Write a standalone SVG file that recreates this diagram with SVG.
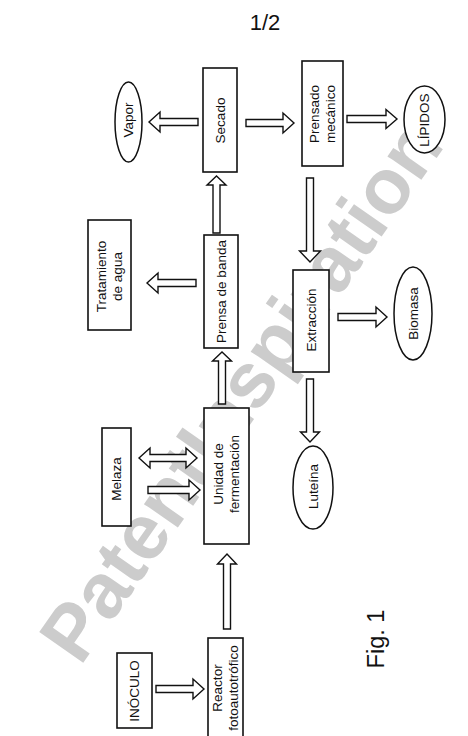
<svg xmlns="http://www.w3.org/2000/svg" width="468" height="736" viewBox="0 0 468 736">
<style>
.bg{fill:#ffffff}
.box{fill:#ffffff;stroke:#111;stroke-width:1.6}
.ell{fill:#ffffff;stroke:#111;stroke-width:1.5}
.arr{fill:#ffffff;stroke:#111;stroke-width:1.4;stroke-linejoin:miter}
.t{font-family:"Liberation Sans",Arial,sans-serif;font-size:13.5px;fill:#111;text-anchor:middle}
.wm{font-family:"Liberation Sans",Arial,sans-serif;font-weight:bold;font-size:78px;fill:#cccccc;text-anchor:middle}
</style>
<rect class="bg" x="0" y="0" width="468" height="736"/>
<text class="wm" transform="translate(240,390) rotate(-55)" y="28">PatentInspiration</text>
<text id="page" class="t" x="265" y="30" style="font-size:22px">1/2</text>
<g id="connectors">
<polygon class="arr" points="198,118.5 160,118.5 160,112 149,122 160,132 160,125.5 198,125.5"/>
<polygon class="arr" points="246,119.5 283,119.5 283,113 294,123 283,133 283,126.5 246,126.5"/>
<polygon class="arr" points="347,115.5 386,115.5 386,109.5 397,119 386,128.5 386,122.5 347,122.5"/>
<polygon class="arr" points="213,233 213,185 207,185 216.5,176 226,185 220,185 220,233"/>
<polygon class="arr" points="306.5,178 306.5,251 299.5,251 310,262 320.5,251 313.5,251 313.5,178"/>
<polygon class="arr" points="196,279.5 158,279.5 158,273 147,283 158,293 158,286.5 196,286.5"/>
<polygon class="arr" points="338,313.5 376,313.5 376,307 387,317 376,327 376,320.5 338,320.5"/>
<polygon class="arr" points="306.5,379 306.5,432 300.5,432 310,442 319.5,432 313.5,432 313.5,379"/>
<polygon class="arr" points="218.5,404 218.5,361 212.5,361 222,352 231.5,361 225.5,361 225.5,404"/>
<polygon class="arr" points="139,458 150,448 150,454.5 186,454.5 186,448 197,458 186,468 186,461.5 150,461.5 150,468"/>
<polygon class="arr" points="148,486.5 189,486.5 189,480 200,490 189,500 189,493.5 148,493.5"/>
<polygon class="arr" points="223.5,629 223.5,564 217.5,564 227,554 236.5,564 230.5,564 230.5,629"/>
<polygon class="arr" points="156,685.5 193,685.5 193,679 204,689 193,699 193,692.5 156,692.5"/>
</g>
<g id="vapor">
<ellipse class="ell" cx="128.5" cy="122" rx="13.5" ry="40"/>
<text class="t" transform="translate(128.5,120) rotate(-90)" y="4.7">Vapor</text>
</g>
<g id="secado">
<rect class="box" x="203" y="68" width="34" height="104"/>
<text class="t" transform="translate(220,120.5) rotate(-90)" y="4.7">Secado</text>
</g>
<g id="prensado">
<rect class="box" x="302" y="61" width="41" height="105"/>
<text class="t" transform="translate(322.5,114) rotate(-90)"><tspan x="0" y="-3.3">Prensado</tspan><tspan x="0" y="12.7">mecánico</tspan></text>
</g>
<g id="lipidos">
<ellipse class="ell" cx="424.5" cy="119.5" rx="20.5" ry="33.5"/>
<text class="t" transform="translate(424.5,120) rotate(-90)" y="4.7">LÍPIDOS</text>
</g>
<g id="tratamiento">
<rect class="box" x="88" y="220" width="43" height="110"/>
<text class="t" transform="translate(109.5,276.5) rotate(-90)"><tspan x="0" y="-3.3">Tratamiento</tspan><tspan x="0" y="12.7">de agua</tspan></text>
</g>
<g id="prensa">
<rect class="box" x="204" y="235" width="34" height="113"/>
<text class="t" transform="translate(221,291.5) rotate(-90)" y="4.7">Prensa de banda</text>
</g>
<g id="extraccion">
<rect class="box" x="293" y="270" width="36" height="102"/>
<text class="t" transform="translate(311,320) rotate(-90)" y="4.7">Extracción</text>
</g>
<g id="biomasa">
<ellipse class="ell" cx="413" cy="313.5" rx="19" ry="46.5"/>
<text class="t" transform="translate(413,313.5) rotate(-90)" y="4.7">Biomasa</text>
</g>
<g id="luteina">
<ellipse class="ell" cx="313" cy="487.5" rx="20" ry="41.5"/>
<text class="t" transform="translate(313,486.5) rotate(-90)" y="4.7">Luteína</text>
</g>
<g id="melaza">
<rect class="box" x="102" y="428" width="29" height="98"/>
<text class="t" transform="translate(116.5,479) rotate(-90)" y="4.7">Melaza</text>
</g>
<g id="unidad">
<rect class="box" x="204" y="408" width="45" height="136"/>
<text class="t" transform="translate(226.5,474) rotate(-90)"><tspan x="0" y="-3.3">Unidad de</tspan><tspan x="0" y="12.7">fermentación</tspan></text>
</g>
<g id="inoculo">
<rect class="box" x="117" y="653" width="35" height="75"/>
<text class="t" transform="translate(134.5,691) rotate(-90)" y="4.7">INÓCULO</text>
</g>
<g id="reactor">
<rect class="box" x="208" y="638" width="35" height="104"/>
<text class="t" transform="translate(225.5,688) rotate(-90)"><tspan x="0" y="-3.3">Reactor</tspan><tspan x="0" y="12.7">fotoautotrófico</tspan></text>
</g>
<text id="fig" class="t" transform="translate(384,639) rotate(-90)" style="font-size:23.5px">Fig. 1</text>
</svg>
